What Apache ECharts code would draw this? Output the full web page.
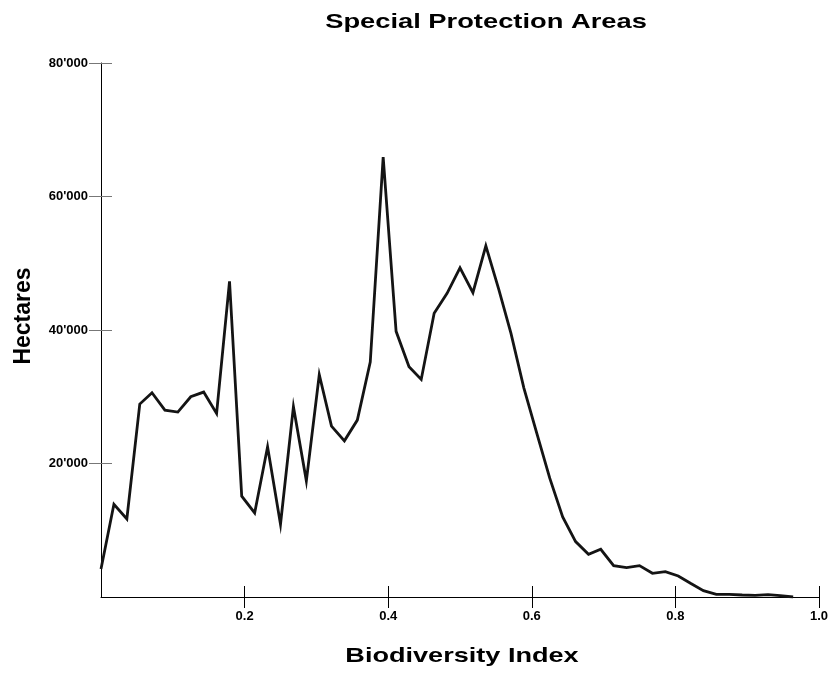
<!DOCTYPE html>
<html>
<head>
<meta charset="utf-8">
<script src="https://cdn.jsdelivr.net/npm/echarts@6/dist/echarts.min.js"></script>
<style>
html,body{margin:0;padding:0;background:#fff;}
#chart{width:832px;height:673px;}
</style>
</head>
<body>
<div id="chart"></div>
<script>
var chartTitle = 'Special Protection Areas';
var xAxisTitle = 'Biodiversity Index';
var yAxisTitle = 'Hectares';
var xTicks = [0.2, 0.4, 0.6, 0.8, 1.0];
var yTicks = [20000, 40000, 60000, 80000];
var biodiversityIndex = [0, 0.018, 0.036, 0.054, 0.071, 0.089, 0.107, 0.125, 0.143, 0.161,
  0.179, 0.196, 0.214, 0.232, 0.25, 0.268, 0.286, 0.304, 0.321, 0.339,
  0.357, 0.375, 0.393, 0.411, 0.429, 0.446, 0.464, 0.482, 0.5, 0.518,
  0.536, 0.554, 0.571, 0.589, 0.607, 0.625, 0.643, 0.661, 0.679, 0.696,
  0.714, 0.732, 0.75, 0.768, 0.786, 0.804, 0.821, 0.839, 0.857, 0.875,
  0.893, 0.911, 0.929, 0.946, 0.964];
var hectares = [4200, 13900, 11700, 28900, 30600, 28000, 27700, 30000, 30700, 27500,
  47300, 15100, 12600, 22500, 10900, 28500, 17400, 33300, 25600, 23400,
  26500, 35200, 65900, 39800, 34500, 32600, 42500, 45500, 49300, 45600,
  52600, 46100, 39500, 31300, 24500, 17800, 12000, 8300, 6400, 7150,
  4700, 4400, 4700, 3550, 3800, 3150, 2050, 950, 400, 400,
  300, 250, 350, 200, 0];

var points = biodiversityIndex.map(function (x, i) { return [x, hectares[i]]; });
var FONT = '"Liberation Sans", Arial, sans-serif';

var chart = echarts.init(document.getElementById('chart'), null, {renderer: 'canvas'});
var xBase = {
  type: 'value', min: 0, max: 1, gridIndex: 0, position: 'bottom',
  splitLine: {show: false}
};
var yBase = {
  type: 'value', min: 0, max: 80000, gridIndex: 0, position: 'left',
  splitLine: {show: false}
};
chart.setOption({
  backgroundColor: '#ffffff',
  animation: false,
  grid: {left: 101, right: 13, top: 63, bottom: 76, containLabel: false},
  xAxis: [
    Object.assign({}, xBase, {
      axisLine: {show: true, lineStyle: {color: '#000', width: 1}},
      axisTick: {show: true, inside: false, length: 11, customValues: xTicks, lineStyle: {color: '#000'}},
      axisLabel: {show: true, customValues: xTicks, margin: 13, color: '#000',
        fontFamily: FONT, fontWeight: 'bold', fontSize: 13,
        formatter: function (v) { return v.toFixed(1); }}
    }),
    Object.assign({}, xBase, {
      axisLine: {show: false},
      axisTick: {show: true, inside: true, length: 11, customValues: xTicks, lineStyle: {color: '#000'}},
      axisLabel: {show: false}
    })
  ],
  yAxis: [
    Object.assign({}, yBase, {
      axisLine: {show: true, lineStyle: {color: '#000', width: 1}},
      axisTick: {show: true, inside: false, length: 12, customValues: yTicks, lineStyle: {color: '#777'}},
      axisLabel: {show: true, customValues: yTicks, margin: 13, color: '#000',
        fontFamily: FONT, fontWeight: 'bold', fontSize: 13,
        formatter: function (v) { return (v / 1000) + "'000"; }}
    }),
    Object.assign({}, yBase, {
      axisLine: {show: false},
      axisTick: {show: true, inside: true, length: 11, customValues: yTicks, lineStyle: {color: '#777'}},
      axisLabel: {show: false}
    })
  ],
  series: [{
    type: 'line',
    xAxisIndex: 0, yAxisIndex: 0,
    data: points,
    showSymbol: false,
    symbol: 'none',
    lineStyle: {color: '#141414', width: 2.8, join: 'miter'},
    z: 3
  }],
  graphic: [
    {type: 'text', x: 486, y: 22, scaleX: 1.3, scaleY: 1,
      style: {text: chartTitle, font: 'bold 21px ' + FONT, fill: '#000', align: 'center', verticalAlign: 'middle'}},
    {type: 'text', x: 462, y: 656, scaleX: 1.29, scaleY: 1,
      style: {text: xAxisTitle, font: 'bold 21px ' + FONT, fill: '#000', align: 'center', verticalAlign: 'middle'}},
    {type: 'text', x: 24, y: 316, rotation: Math.PI / 2,
      style: {text: yAxisTitle, font: 'bold 23px ' + FONT, fill: '#000', align: 'center', verticalAlign: 'middle'}}
  ]
});
</script>
</body>
</html>
